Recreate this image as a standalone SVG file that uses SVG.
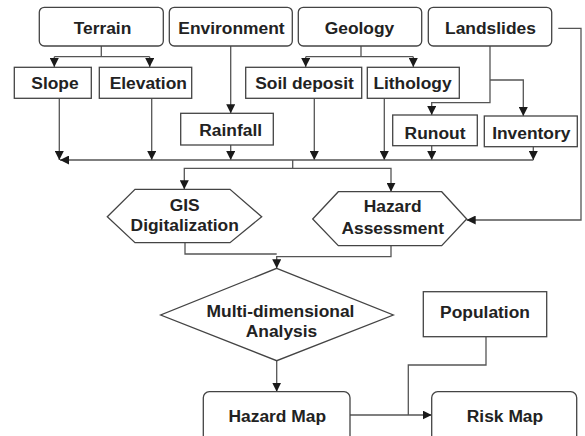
<svg xmlns="http://www.w3.org/2000/svg" width="585" height="436" viewBox="0 0 585 436">
<defs>
<marker id="ah" viewBox="0 0 10 10" refX="10" refY="5" markerWidth="9" markerHeight="9" markerUnits="userSpaceOnUse" orient="auto">
<path d="M0,0 L10,5 L0,10 Z" fill="#1a1a1a"/>
</marker>
</defs>
<style>
.box{fill:#fff;stroke:#444;stroke-width:1.3}
.t{font-family:"Liberation Sans",Arial,sans-serif;font-weight:bold;font-size:17.4px;fill:#222;text-anchor:middle}
.c{fill:none;stroke:#555;stroke-width:1.3}
.a{marker-end:url(#ah)}
</style>
<rect width="585" height="436" fill="#fff"/>
<g id="connectors">
<path class="c" d="M101.3,46 V56.7 M54.3,56.7 H149.7"/>
<path class="c a" d="M54.3,56.7 V67"/>
<path class="c a" d="M149.7,56.7 V67"/>
<path class="c a" d="M230.7,46 V113.3"/>
<path class="c" d="M361,46 V56.7 M305.7,56.7 H413.3"/>
<path class="c a" d="M305.7,56.7 V67"/>
<path class="c a" d="M413.3,56.7 V67"/>
<path class="c a" d="M490,46 V102.7 H431.7 V115"/>
<path class="c a" d="M490,80 H523.3 V116"/>
<path class="c a" d="M59.3,98.3 V160"/>
<path class="c a" d="M151.7,98.3 V160"/>
<path class="c a" d="M230.7,145 V160"/>
<path class="c a" d="M314.3,98.3 V160"/>
<path class="c a" d="M384.3,98.3 V160"/>
<path class="c a" d="M431.7,145.7 V160"/>
<path class="c a" d="M533.3,146.7 V160"/>
<path class="c a" d="M533.3,160 H60"/>
<path class="c a" d="M292.7,160 V168.3 H184.3 V189.3"/>
<path class="c a" d="M292.7,168.3 H391 V191.7"/>
<path class="c a" d="M558.3,28.3 H581 V220 H466.7"/>
<path class="c" d="M185,240 V254 H276.7"/>
<path class="c a" d="M391,245.7 V256.7 H276.7 V268.3"/>
<path class="c a" d="M276.7,360.7 V391.7"/>
<path class="c a" d="M350,415 H431.7"/>
<path class="c" d="M486,336.7 V365 H408.3 V415"/>
</g>
<g id="terrain"><rect class="box" x="39.3" y="7.3" width="124" height="38.7" rx="5"/><text class="t" x="102.5" y="34">Terrain</text></g>
<g id="environment"><rect class="box" x="169.3" y="7.3" width="123" height="38.7" rx="5"/><text class="t" x="231.5" y="34">Environment</text></g>
<g id="geology"><rect class="box" x="298.3" y="7.3" width="123.4" height="38.7" rx="5"/><text class="t" x="359.5" y="34">Geology</text></g>
<g id="landslides"><rect class="box" x="428.3" y="7.3" width="123.4" height="38.7" rx="5"/><text class="t" x="490.5" y="34">Landslides</text></g>
<g id="slope"><rect class="box" x="14.3" y="67.3" width="77" height="31"/><text class="t" x="55" y="89.3">Slope</text></g>
<g id="elevation"><rect class="box" x="99.3" y="67.3" width="92.4" height="31"/><text class="t" x="148.3" y="89.3">Elevation</text></g>
<g id="soil-deposit"><rect class="box" x="245.7" y="67.3" width="116" height="31"/><text class="t" x="304.5" y="89.3">Soil deposit</text></g>
<g id="lithology"><rect class="box" x="367.3" y="67.3" width="92" height="31"/><text class="t" x="412.5" y="89.3">Lithology</text></g>
<g id="rainfall"><rect class="box" x="180.7" y="113.3" width="92.6" height="31.7"/><text class="t" x="230.7" y="136">Rainfall</text></g>
<g id="runout"><rect class="box" x="392.7" y="115" width="84.6" height="30.7"/><text class="t" x="435" y="139">Runout</text></g>
<g id="inventory"><rect class="box" x="484.3" y="116" width="93" height="30.7"/><text class="t" x="531.3" y="138.5">Inventory</text></g>
<g id="gis"><polygon class="box" points="107.3,216.7 135,189.3 230,189.3 261.7,216.7 230,242.7 135,242.7"/><text class="t" x="184.7" y="210.7">GIS</text><text class="t" x="184.7" y="230.7">Digitalization</text></g>
<g id="hazard-assessment"><polygon class="box" points="312.7,219 338.3,191.7 441.7,191.7 466.7,219 441.7,245.7 338.3,245.7"/><text class="t" x="392.7" y="212.3">Hazard</text><text class="t" x="392.7" y="234">Assessment</text></g>
<g id="analysis"><polygon class="box" points="276.7,268.3 393.3,315 276.7,360.7 160.7,315"/><text class="t" x="280.5" y="317.3">Multi-dimensional</text><text class="t" x="281.5" y="337.3">Analysis</text></g>
<g id="population"><rect class="box" x="423.3" y="291.7" width="123.4" height="45"/><text class="t" x="485" y="317.7">Population</text></g>
<g id="hazard-map"><rect class="box" x="203.3" y="391.7" width="146.7" height="60" rx="6"/><text class="t" x="277.3" y="421.7">Hazard Map</text></g>
<g id="risk-map"><rect class="box" x="431.7" y="391.7" width="145" height="60" rx="6"/><text class="t" x="505" y="421.7">Risk Map</text></g>
</svg>
